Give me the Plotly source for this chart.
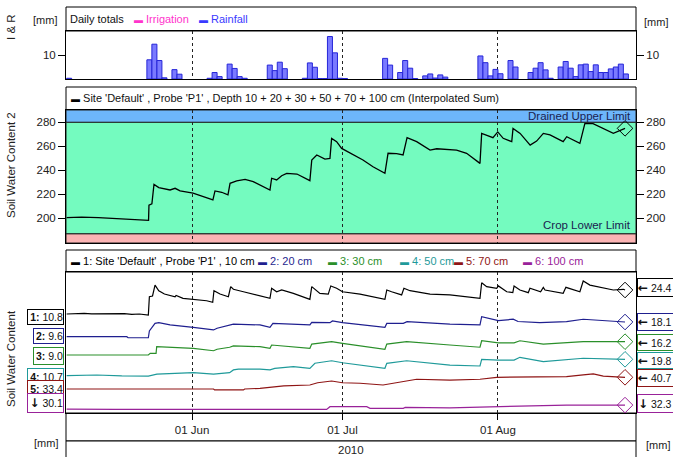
import plotly.graph_objects as go

W, H = 673, 457
def px(x): return x / W
def py(y): return 1 - y / H

# ---------------- data ----------------
X_RANGE = ["2010-05-06 21:00", "2010-08-28 12:30"]
MONTH_TICKS = ["2010-06-01", "2010-07-01", "2010-08-01"]
MONTH_LABELS = ["01 Jun", "01 Jul", "01 Aug"]

rain_dates = ["2010-05-07", "2010-05-23", "2010-05-24", "2010-05-25", "2010-05-26", "2010-05-28", "2010-05-29",
              "2010-06-04", "2010-06-05", "2010-06-06", "2010-06-08", "2010-06-09", "2010-06-10", "2010-06-11",
              "2010-06-16", "2010-06-17", "2010-06-18", "2010-06-19", "2010-06-23", "2010-06-24", "2010-06-25",
              "2010-06-26", "2010-06-27", "2010-06-28", "2010-06-29", "2010-06-30", "2010-07-01",
              "2010-07-09", "2010-07-10", "2010-07-12", "2010-07-13", "2010-07-14", "2010-07-15",
              "2010-07-17", "2010-07-18", "2010-07-19", "2010-07-20", "2010-07-21",
              "2010-07-28", "2010-07-29", "2010-07-30", "2010-07-31", "2010-08-01", "2010-08-03", "2010-08-04",
              "2010-08-07", "2010-08-08", "2010-08-09", "2010-08-10", "2010-08-11",
              "2010-08-13", "2010-08-14", "2010-08-15", "2010-08-16", "2010-08-17", "2010-08-18", "2010-08-19",
              "2010-08-20", "2010-08-21", "2010-08-22", "2010-08-23", "2010-08-24", "2010-08-25", "2010-08-26"]
rain_mm = [0.3, 8.0, 14.5, 7.7, 0.5, 3.9, 2.0,
           0.3, 2.7, 1.0, 6.2, 4.4, 1.0, 0.3,
           5.8, 3.5, 7.0, 4.3, 0.3, 6.7, 4.9,
           0.2, 0.2, 17.7, 10.9, 0.3, 0.2,
           8.6, 5.8, 2.7, 7.7, 4.5, 0.2,
           1.3, 2.1, 0.4, 1.7, 0.8,
           9.6, 6.8, 1.3, 4.0, 2.2, 7.7, 5.0,
           2.7, 4.5, 6.8, 3.8, 0.3,
           5.0, 7.3, 4.5, 1.0, 5.9, 6.2, 3.1,
           5.9, 2.7, 2.7, 4.2, 5.0, 6.2, 2.1]
irr_dates = []
irr_mm = []

DUL = 280
CLL = 187

sum_dates = ["2010-05-07 00:00", "2010-05-10 00:00", "2010-05-13 08:00", "2010-05-15 00:00", "2010-05-17 16:00",
             "2010-05-21 01:00", "2010-05-23 00:00", "2010-05-23 08:00", "2010-05-23 10:00", "2010-05-24 00:00",
             "2010-05-24 10:00", "2010-05-25 09:00", "2010-05-27 15:00", "2010-05-28 15:00", "2010-05-29 15:00",
             "2010-06-01 05:00", "2010-06-05 04:00", "2010-06-05 14:00", "2010-06-06 22:00", "2010-06-08 04:00",
             "2010-06-08 14:00", "2010-06-09 22:00", "2010-06-11 14:00", "2010-06-13 05:00", "2010-06-16 13:00",
             "2010-06-16 21:00", "2010-06-17 21:00", "2010-06-18 21:00", "2010-06-19 21:00", "2010-06-21 22:00",
             "2010-06-24 12:00", "2010-06-24 21:00", "2010-06-25 21:00", "2010-06-27 12:00", "2010-06-28 12:00",
             "2010-06-28 20:00", "2010-06-29 20:00", "2010-06-30 20:00", "2010-07-05 02:00", "2010-07-07 02:00",
             "2010-07-09 11:00", "2010-07-10 02:00", "2010-07-11 19:00", "2010-07-13 02:00", "2010-07-13 21:00",
             "2010-07-15 19:00", "2010-07-18 11:00", "2010-07-19 19:00", "2010-07-23 18:00", "2010-07-25 18:00",
             "2010-07-28 10:00", "2010-07-28 18:00", "2010-07-31 00:00", "2010-07-31 23:00", "2010-08-02 01:00",
             "2010-08-03 18:00", "2010-08-04 00:00", "2010-08-05 10:00", "2010-08-07 10:00", "2010-08-08 17:00",
             "2010-08-10 01:00", "2010-08-11 09:00", "2010-08-14 00:00", "2010-08-14 17:00", "2010-08-17 08:00",
             "2010-08-18 08:00", "2010-08-19 23:00", "2010-08-22 00:00", "2010-08-24 00:00", "2010-08-26 08:00"]
sum_vals = [200.5, 200.9, 200.6, 200.2, 199.8,
            199.0, 198.3, 198.3, 211.0, 212.0,
            228.3, 225.6, 223.6, 225.0, 222.8,
            221.0, 215.3, 222.8, 221.7, 219.5,
            229.2, 231.2, 232.5, 230.6, 223.6,
            233.4, 232.0, 235.5, 237.5, 236.9,
            231.4, 248.6, 252.8, 249.4, 250.0,
            266.6, 263.9, 258.3, 248.6, 243.0,
            237.5, 254.2, 254.0, 252.8, 267.2,
            263.9, 256.9, 258.0, 256.9, 254.2,
            245.8, 270.8, 267.2, 272.0, 266.7,
            263.9, 275.0, 270.8, 261.0, 264.4,
            270.8, 269.5, 263.9, 268.0, 262.5,
            279.1, 279.0, 275.0, 270.8, 275.0]

s1_dates = ["2010-05-07 00:00", "2010-05-10 12:00", "2010-05-12 00:00", "2010-05-14 12:00", "2010-05-16 00:00",
            "2010-05-18 12:00", "2010-05-20 00:00", "2010-05-21 12:00", "2010-05-23 07:00", "2010-05-23 12:00",
            "2010-05-24 03:00", "2010-05-24 15:00", "2010-05-25 09:00", "2010-05-26 12:00", "2010-05-28 15:00",
            "2010-05-28 20:00", "2010-05-30 05:00", "2010-06-01 06:00", "2010-06-03 22:00", "2010-06-05 03:00",
            "2010-06-05 09:00", "2010-06-06 14:00", "2010-06-08 06:00", "2010-06-08 17:00", "2010-06-09 06:00",
            "2010-06-11 06:00", "2010-06-12 13:00", "2010-06-16 13:00", "2010-06-16 21:00", "2010-06-17 21:00",
            "2010-06-18 21:00", "2010-06-21 05:00", "2010-06-24 12:00", "2010-06-24 21:00", "2010-06-26 12:00",
            "2010-06-28 04:00", "2010-06-28 16:00", "2010-06-29 20:00", "2010-07-01 00:00", "2010-07-04 12:00",
            "2010-07-09 11:00", "2010-07-09 20:00", "2010-07-10 19:00", "2010-07-12 19:00", "2010-07-13 06:00",
            "2010-07-14 11:00", "2010-07-18 11:00", "2010-07-22 10:00", "2010-07-28 10:00", "2010-07-28 18:00",
            "2010-07-29 18:00", "2010-07-31 18:00", "2010-08-01 02:00", "2010-08-02 18:00", "2010-08-03 23:00",
            "2010-08-04 05:00", "2010-08-05 09:00", "2010-08-07 01:00", "2010-08-07 09:00", "2010-08-09 12:00",
            "2010-08-10 01:00", "2010-08-10 09:00", "2010-08-14 00:00", "2010-08-14 13:00", "2010-08-17 08:00",
            "2010-08-18 00:00", "2010-08-19 08:00", "2010-08-22 00:00", "2010-08-24 00:00", "2010-08-26 00:00",
            "2010-08-26 08:00"]
s1_vals = [10.8, 11.2, 10.9, 11.1, 10.8,
           11.0, 10.6, 10.8, 10.2, 20.6,
           21.0, 27.2, 24.0, 22.1, 20.6,
           21.3, 19.7, 19.1, 18.3, 17.4,
           24.0, 22.1, 20.6, 26.3, 24.8,
           23.4, 22.5, 19.7, 25.4, 23.4,
           24.4, 22.5, 19.1, 26.3, 22.5,
           22.1, 26.7, 25.4, 23.4, 22.1,
           19.1, 24.4, 23.4, 21.6, 25.4,
           24.0, 22.1, 21.6, 19.7, 28.5,
           26.3, 25.4, 26.7, 23.4, 22.9,
           26.7, 24.4, 22.9, 25.4, 23.4,
           25.9, 24.4, 22.5, 25.9, 23.4,
           29.5, 27.2, 25.4, 24.4, 24.8,
           24.4]

s2_dates = ["2010-05-07 00:00", "2010-05-19 00:00", "2010-05-19 06:00", "2010-05-23 07:00", "2010-05-23 12:00",
            "2010-05-24 15:00", "2010-05-25 09:00", "2010-05-27 15:00", "2010-06-01 06:00", "2010-06-03 22:00",
            "2010-06-05 07:00", "2010-06-06 00:00", "2010-06-08 12:00", "2010-06-09 06:00", "2010-06-14 13:00",
            "2010-06-16 13:00", "2010-06-17 03:00", "2010-06-24 12:00", "2010-06-24 21:00", "2010-06-28 12:00",
            "2010-06-29 00:00", "2010-07-01 00:00", "2010-07-09 11:00", "2010-07-09 20:00", "2010-07-13 03:00",
            "2010-07-13 21:00", "2010-07-22 10:00", "2010-07-28 10:00", "2010-07-28 18:00", "2010-08-01 02:00",
            "2010-08-04 01:00", "2010-08-05 00:00", "2010-08-09 08:00", "2010-08-14 16:00", "2010-08-18 00:00",
            "2010-08-26 08:00"]
s2_vals = [9.6, 9.6, 9.0, 9.0, 12.9,
           17.3, 17.7, 16.4, 15.0, 13.9,
           13.5, 14.5, 16.4, 16.9, 16.4,
           15.0, 17.3, 16.4, 17.9, 17.7,
           18.7, 17.7, 15.0, 17.3, 17.3,
           18.3, 16.9, 16.4, 21.2, 18.9,
           19.7, 18.4, 17.7, 18.3, 19.7,
           18.1]

s3_dates = ["2010-05-07 00:00", "2010-05-23 07:00", "2010-05-23 16:00", "2010-05-24 20:00", "2010-05-24 23:00",
            "2010-05-27 00:00", "2010-06-01 06:00", "2010-06-05 07:00", "2010-06-06 00:00", "2010-06-08 12:00",
            "2010-06-09 06:00", "2010-06-14 13:00", "2010-06-16 13:00", "2010-06-16 21:00", "2010-06-24 12:00",
            "2010-06-24 21:00", "2010-06-28 20:00", "2010-07-01 00:00", "2010-07-09 11:00", "2010-07-09 20:00",
            "2010-07-13 19:00", "2010-07-22 10:00", "2010-07-28 10:00", "2010-07-28 18:00", "2010-08-01 02:00",
            "2010-08-04 05:00", "2010-08-05 09:00", "2010-08-10 01:00", "2010-08-18 00:00", "2010-08-26 08:00"]
s3_vals = [9.0, 9.0, 9.9, 9.9, 13.5,
           13.2, 12.6, 11.3, 12.1, 13.2,
           13.9, 13.5, 12.6, 14.4, 12.6,
           14.9, 16.2, 15.3, 12.1, 14.9,
           16.2, 14.4, 13.2, 16.7, 15.6,
           15.6, 16.7, 14.9, 16.2, 16.2]

s4_dates = ["2010-05-07 00:00", "2010-05-10 00:00", "2010-05-13 00:00", "2010-05-18 00:00", "2010-05-23 07:00",
            "2010-05-25 00:00", "2010-06-01 06:00", "2010-06-05 07:00", "2010-06-08 12:00", "2010-06-09 06:00",
            "2010-06-10 06:00", "2010-06-14 13:00", "2010-06-16 13:00", "2010-06-17 12:00", "2010-06-21 05:00",
            "2010-06-24 12:00", "2010-06-25 12:00", "2010-06-28 20:00", "2010-07-01 00:00", "2010-07-09 11:00",
            "2010-07-09 20:00", "2010-07-13 19:00", "2010-07-22 10:00", "2010-07-28 10:00", "2010-07-28 18:00",
            "2010-08-01 02:00", "2010-08-04 05:00", "2010-08-05 09:00", "2010-08-10 01:00", "2010-08-18 00:00",
            "2010-08-26 08:00"]
s4_vals = [10.7, 10.9, 11.1, 10.6, 10.5,
           11.6, 12.4, 11.6, 12.4, 13.9,
           14.4, 14.3, 13.9, 14.8, 15.7,
           14.8, 17.6, 19.0, 17.9, 14.8,
           17.6, 19.0, 16.6, 16.1, 19.8,
           19.4, 19.4, 20.9, 18.5, 20.4,
           19.8]

s5_dates = ["2010-05-07 00:00", "2010-06-05 07:00", "2010-06-05 12:00", "2010-06-11 06:00", "2010-06-11 12:00",
            "2010-06-14 13:00", "2010-06-19 07:00", "2010-06-24 12:00", "2010-06-26 01:00", "2010-06-28 20:00",
            "2010-07-01 00:00", "2010-07-04 12:00", "2010-07-09 02:00", "2010-07-13 03:00", "2010-07-15 19:00",
            "2010-07-22 10:00", "2010-07-28 10:00", "2010-07-31 18:00", "2010-08-09 08:00", "2010-08-14 16:00",
            "2010-08-18 00:00", "2010-08-20 00:00", "2010-08-22 00:00", "2010-08-26 08:00"]
s5_vals = [33.4, 33.4, 32.8, 32.8, 33.4,
           33.8, 35.3, 35.9, 37.3, 38.4,
           37.3, 37.0, 35.9, 38.0, 39.5,
           39.0, 39.5, 40.7, 40.7, 41.1,
           42.2, 42.8, 41.5, 40.7]

s6_dates = ["2010-05-07 00:00", "2010-05-16 00:00", "2010-05-16 18:00", "2010-06-27 20:00", "2010-06-28 12:00",
            "2010-07-05 20:00", "2010-07-06 12:00", "2010-07-13 03:00", "2010-07-13 12:00", "2010-07-22 10:00",
            "2010-07-31 18:00", "2010-08-09 08:00", "2010-08-14 16:00", "2010-08-26 08:00"]
s6_vals = [30.1, 30.3, 29.9, 29.9, 31.4,
           31.4, 30.5, 30.5, 31.0, 30.8,
           31.4, 31.8, 32.3, 32.3]

depth_names = ["1: Site 'Default' , Probe 'P1' , 10 cm", "2: 20 cm", "3: 30 cm", "4: 50 cm", "5: 70 cm", "6: 100 cm"]
depth_colors = ["#000000", "#1f1f8f", "#2a8f2a", "#1f9a9a", "#8f1515", "#992299"]
ARROW_L = "<span style='font-family:DejaVu Sans;font-size:12px;font-weight:bold'>\u2190</span> "
ARROW_D = "<span style='font-family:DejaVu Sans;font-size:12px;font-weight:bold'>\u2193</span> "
start_labels = ["<b>1:</b> 10.8", "<b>2:</b> 9.6", "<b>3:</b> 9.0", "<b>4:</b> 10.7", "<b>5:</b> 33.4",
                ARROW_D + "30.1"]
end_labels = [ARROW_L + "24.4", ARROW_L + "18.1", ARROW_L + "16.2", ARROW_L + "19.8", ARROW_L + "40.7",
              ARROW_D + "32.3"]
series_dates = [s1_dates, s2_dates, s3_dates, s4_dates, s5_dates, s6_dates]
series_vals = [s1_vals, s2_vals, s3_vals, s4_vals, s5_vals, s6_vals]
series_ranges = [[-45.3, 34.6], [-34.5, 47.0], [-22.35, 53.86], [-10.02, 68.3], [18.4, 106.5], [27.9, 106.2]]

# ---------------- figure ----------------
FONT = "Liberation Sans, Arial, sans-serif"
fig = go.Figure()

fig.add_trace(go.Bar(x=[d + " 12:00" for d in rain_dates], y=rain_mm, width=86400000,
                     marker=dict(color="rgba(115,115,255,0.95)", line=dict(color="#2626d8", width=1)),
                     xaxis="x", yaxis="y", showlegend=False))
fig.add_trace(go.Bar(x=irr_dates, y=irr_mm, width=86400000, marker=dict(color="#ff44cc"),
                     xaxis="x", yaxis="y", showlegend=False))
fig.add_trace(go.Scatter(x=[], y=[], xaxis="x", yaxis="y2", showlegend=False))

fig.add_trace(go.Scatter(x=sum_dates, y=sum_vals, mode="lines", line=dict(color="black", width=1.3),
                         xaxis="x2", yaxis="y3", showlegend=False))
fig.add_trace(go.Scatter(x=[sum_dates[-1]], y=[sum_vals[-1]], mode="markers",
                         marker=dict(symbol="diamond-open", size=12, color="black", line=dict(width=1)),
                         xaxis="x2", yaxis="y3", showlegend=False))
fig.add_trace(go.Scatter(x=[], y=[], xaxis="x2", yaxis="y4", showlegend=False))

for i in range(6):
    ya = "y" + str(5 + i)
    fig.add_trace(go.Scatter(x=series_dates[i], y=series_vals[i], mode="lines",
                             line=dict(color=depth_colors[i], width=1.2),
                             xaxis="x3", yaxis=ya, showlegend=False))
    fig.add_trace(go.Scatter(x=[series_dates[i][-1]], y=[series_vals[i][-1]], mode="markers",
                             marker=dict(symbol="diamond-open", size=12, color=depth_colors[i], line=dict(width=1)),
                             xaxis="x3", yaxis=ya, showlegend=False))

xdom = [px(66), px(636)]
common_x = dict(domain=xdom, range=X_RANGE, type="date", tickvals=MONTH_TICKS, ticktext=MONTH_LABELS,
                showgrid=True, gridcolor="#222222", griddash="3px,3px", gridwidth=1, automargin=False,
                showline=True, mirror=True, linecolor="black", linewidth=1, zeroline=False)
layout = dict(
    width=W, height=H, autosize=False,
    margin=dict(l=0, r=0, t=0, b=0, pad=0),
    paper_bgcolor="white", plot_bgcolor="white",
    font=dict(family=FONT, size=11, color="#222222"),
    showlegend=False, barmode="overlay",
    xaxis=dict(common_x, anchor="y", showticklabels=False, ticks=""),
    xaxis2=dict(common_x, anchor="y3", showticklabels=False, ticks=""),
    xaxis3=dict(common_x, anchor="y5", showticklabels=True, ticks="outside", ticklen=6,
                tickcolor="black", tickfont=dict(size=11.5, color="#222")),
)
ycommon = dict(showline=True, mirror=True, linecolor="black", linewidth=1, showgrid=False, zeroline=False,
               ticks="outside", ticklen=7, tickcolor="black", tickfont=dict(size=11.5, color="#222"),
               automargin=False)
layout["yaxis"] = dict(ycommon, domain=[py(79), py(31)], range=[0, 20], tickvals=[10], anchor="x")
layout["yaxis2"] = dict(ycommon, overlaying="y", side="right", range=[0, 20], tickvals=[10], anchor="x",
                        showline=False)
layout["yaxis3"] = dict(ycommon, domain=[py(243), py(110)], range=[179.4, 290.3],
                        tickvals=[200, 220, 240, 260, 280], anchor="x2")
layout["yaxis4"] = dict(ycommon, overlaying="y3", side="right", range=[179.4, 290.3],
                        tickvals=[200, 220, 240, 260, 280], anchor="x2", showline=False)
layout["yaxis5"] = dict(domain=[py(413), py(272)], range=series_ranges[0], anchor="x3", automargin=False,
                        showline=True, mirror=True, linecolor="black", linewidth=1, showgrid=False,
                        zeroline=False, showticklabels=False, ticks="")
for i in range(1, 6):
    layout["yaxis" + str(5 + i)] = dict(overlaying="y5", range=series_ranges[i], visible=False, anchor="x3",
                                        automargin=False)
fig.update_layout(**layout)

shapes = []
# legend / label boxes
for (t, b) in [(7, 31), (87, 110), (250, 272), (413, 441), (441, 460)]:
    shapes.append(dict(type="rect", xref="paper", yref="paper", x0=px(66), x1=px(636), y0=py(b), y1=py(t),
                       line=dict(color="black", width=1), fillcolor="white", layer="below"))
# limit bands in middle panel
shapes.append(dict(type="rect", xref="x2 domain", yref="y3", x0=0, x1=1, y0=DUL, y1=290.3,
                   fillcolor="#6db6fb", line=dict(color="#222", width=1), layer="below"))
shapes.append(dict(type="rect", xref="x2 domain", yref="y3", x0=0, x1=1, y0=CLL, y1=DUL,
                   fillcolor="#74fbbf", line=dict(color="#222", width=1), layer="below"))
shapes.append(dict(type="rect", xref="x2 domain", yref="y3", x0=0, x1=1, y0=179.4, y1=CLL,
                   fillcolor="#fbb4b4", line=dict(color="#222", width=1), layer="below"))
fig.update_layout(shapes=shapes)

ann = []
def A(text, x, y, **kw):
    d = dict(text=text, x=px(x), y=py(y), xref="paper", yref="paper", showarrow=False,
             xanchor="center", yanchor="middle")
    d.update(kw)
    ann.append(d)

def mark(c):
    return "<span style='color:%s;font-size:9px'><b>\u25ac</b></span> " % c

# top legend
A("Daily totals", 68, 19, xanchor="left", font=dict(size=11, color="#111"))
A(mark("#ff33cc") + "<span style='color:#ff33cc'>Irrigation</span>", 132, 19, xanchor="left")
A(mark("#3a3aff") + "<span style='color:#3a3aff'>Rainfall</span>", 197, 19, xanchor="left")
# middle legend
A(mark("#000") + "Site 'Default' , Probe 'P1' , Depth 10 + 20 + 30 + 50 + 70 + 100 cm (Interpolated Sum)",
  69, 98.5, xanchor="left", font=dict(size=11, color="#111"))
# bottom legend
leg_x = [69, 256, 326, 398, 452, 521]
for i in range(6):
    A(mark(depth_colors[i]) + "<span style='color:%s'>%s</span>" % (depth_colors[i], depth_names[i]),
      leg_x[i], 261, xanchor="left")

# limit labels
ann.append(dict(text="Drained Upper Limit", xref="x2 domain", yref="y3", x=0.995, y=(DUL + 290.3) / 2,
                xanchor="right", yanchor="middle", showarrow=False, font=dict(size=11.5, color="#1a2250")))
ann.append(dict(text="Crop Lower Limit", xref="x2 domain", yref="y3", x=0.995, y=CLL,
                xanchor="right", yanchor="bottom", yshift=1, showarrow=False, font=dict(size=11.5, color="#1a2250")))

# axis titles
A("I & R", 11, 27, textangle=-90, font=dict(size=11.5, color="#222"))
A("Soil Water Content 2", 11, 165, textangle=-90, font=dict(size=11.5, color="#222"))
A("Soil Water Content", 11, 359, textangle=-90, font=dict(size=11.5, color="#222"))
A("[mm]", 45, 20, font=dict(size=11, color="#222"))
A("[mm]", 656, 22, font=dict(size=11, color="#222"))
A("[mm]", 46, 443, font=dict(size=11, color="#222"))
A("[mm]", 658, 445, font=dict(size=11, color="#222"))
A("2010", 351, 450, font=dict(size=11.5, color="#222"))

# start / end value boxes
left_boxes = [(26, 309, 325), (32, 328, 344), (32, 347, 365), (26, 368, 386), (26, 380, 398), (26, 393, 413)]
right_boxes = [(278, 297), (313, 331), (334, 351), (352, 369), (369, 387), (394, 413)]
for i in range(6):
    x0, t, b = left_boxes[i]
    A(start_labels[i], 63.5, (t + b) / 2, xanchor="right", width=63 - x0 - 2, height=b - t - 2,
      align="right", bgcolor="white", bordercolor=depth_colors[i], borderwidth=1, borderpad=0,
      font=dict(size=10.5, color="#111"))
for i in range(6):
    t, b = right_boxes[i]
    A(end_labels[i], 637, (t + b) / 2, xanchor="left", width=36, height=b - t - 2,
      align="left", bgcolor="white", bordercolor=depth_colors[i], borderwidth=1, borderpad=0,
      font=dict(size=10.5, color="#111"))

fig.update_layout(annotations=ann)
fig.write_html("out.html", config={"displayModeBar": False},
               post_script="document.body.style.margin='0';document.body.style.padding='0';")
